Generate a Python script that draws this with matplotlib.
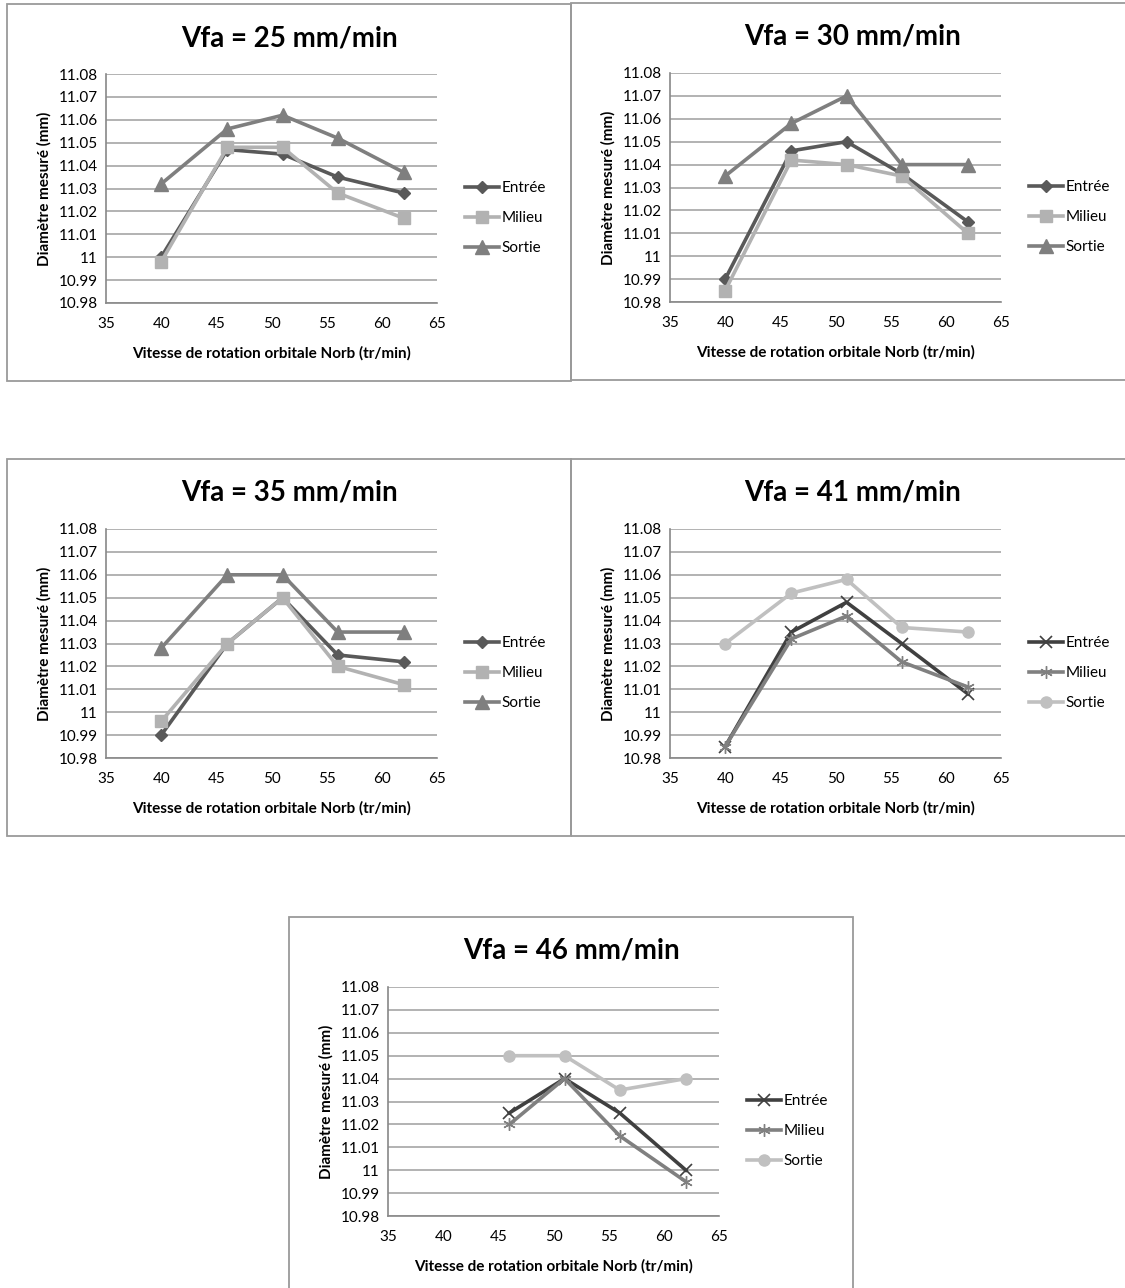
import matplotlib
matplotlib.use("Agg")
import matplotlib.pyplot as plt
from matplotlib.patches import Rectangle

plt.rcParams['font.family'] = ['Lato', 'DejaVu Sans']

W, H = 1125, 1288

norb = [40, 46, 51, 56, 62]
norb_46 = [46, 51, 56, 62]
series_names = ['Entrée', 'Milieu', 'Sortie']

vfa_25 = {'Entrée': [11.000, 11.047, 11.045, 11.035, 11.028],
          'Milieu': [10.998, 11.048, 11.048, 11.028, 11.017],
          'Sortie': [11.032, 11.056, 11.062, 11.052, 11.037]}
vfa_30 = {'Entrée': [10.990, 11.046, 11.050, 11.036, 11.015],
          'Milieu': [10.985, 11.042, 11.040, 11.035, 11.010],
          'Sortie': [11.035, 11.058, 11.070, 11.040, 11.040]}
vfa_35 = {'Entrée': [10.990, 11.030, 11.050, 11.025, 11.022],
          'Milieu': [10.996, 11.030, 11.050, 11.020, 11.012],
          'Sortie': [11.028, 11.060, 11.060, 11.035, 11.035]}
vfa_41 = {'Entrée': [10.985, 11.035, 11.048, 11.030, 11.008],
          'Milieu': [10.985, 11.032, 11.042, 11.022, 11.011],
          'Sortie': [11.030, 11.052, 11.058, 11.037, 11.035]}
vfa_46 = {'Entrée': [11.025, 11.040, 11.025, 11.000],
          'Milieu': [11.020, 11.040, 11.015, 10.995],
          'Sortie': [11.050, 11.050, 11.035, 11.040]}

yticks = [10.98, 10.99, 11.0, 11.01, 11.02, 11.03, 11.04, 11.05, 11.06, 11.07, 11.08]
ytick_labels = ['10.98', '10.99', '11', '11.01', '11.02', '11.03', '11.04',
                '11.05', '11.06', '11.07', '11.08']
xticks = [35, 40, 45, 50, 55, 60, 65]

# styles: first three charts / last two charts
style_a = {'Entrée': dict(color='#595959', marker='D', ms=6),
           'Milieu': dict(color='#b2b2b2', marker='s', ms=8),
           'Sortie': dict(color='#7f7f7f', marker='^', ms=10)}
style_b = {'Entrée': dict(color='#404040', marker='x', ms=8, mew=1.2),
           'Milieu': dict(color='#808080', marker=(6, 2, 0), ms=9, mew=1.0),
           'Sortie': dict(color='#c0c0c0', marker='o', ms=8)}

charts = [
    ('Vfa = 25 mm/min', norb, vfa_25, style_a, (7, 4)),
    ('Vfa = 30 mm/min', norb, vfa_30, style_a, (571, 3)),
    ('Vfa = 35 mm/min', norb, vfa_35, style_a, (7, 459)),
    ('Vfa = 41 mm/min', norb, vfa_41, style_b, (571, 459)),
    ('Vfa = 46 mm/min', norb_46, vfa_46, style_b, (289, 917)),
]

fig = plt.figure(figsize=(W / 100, H / 100), dpi=100)


def fx(px):
    return px / W


def fy(py):
    return 1 - py / H


BW, BH = 564, 377
grid_col = '#a6a6a6'

for title, x, data, style, (bx, by) in charts:
    fig.patches.append(Rectangle((fx(bx), fy(by + BH)), BW / W, BH / H,
                                 transform=fig.transFigure, fill=False,
                                 edgecolor='#9a9a9a', lw=1.3))
    left, right, top, bottom = bx + 99, bx + 430, by + 70, by + 299
    ax = fig.add_axes([fx(left), fy(bottom), (right - left) / W, (bottom - top) / H])
    for name in series_names:
        st = style[name]
        ax.plot(x, data[name], lw=2.6, label=name, color=st['color'],
                marker=st['marker'], ms=st['ms'], mew=st.get('mew', 1),
                mec=st['color'], mfc=st['color'], clip_on=False, zorder=3)
    ax.set_xlim(35, 65)
    ax.set_ylim(10.98, 11.08)
    ax.set_xticks(xticks)
    ax.set_yticks(yticks)
    ax.set_yticklabels(ytick_labels)
    ax.tick_params(length=0, labelsize=11, colors='black')
    ax.tick_params(axis='x', pad=10)
    ax.tick_params(axis='y', pad=6)
    ax.yaxis.grid(True, color=grid_col, lw=1.2)
    ax.set_axisbelow(True)
    for s in ['top', 'right']:
        ax.spines[s].set_visible(False)
    for s in ['left', 'bottom']:
        ax.spines[s].set_color('#888888')
        ax.spines[s].set_linewidth(1.2)
    ax.set_xlabel('Vitesse de rotation orbitale Norb (tr/min)', fontsize=11,
                  fontweight='bold', labelpad=11)
    ax.set_ylabel('Diamètre mesuré (mm)', fontsize=11, fontweight='bold', labelpad=5)
    fig.text(fx(bx + BW / 2), fy(by + 34), title, ha='center', va='center',
             fontsize=20, fontweight='bold')
    ax.legend(loc='upper left', bbox_to_anchor=(fx(bx + 458), fy(by + 177)),
              bbox_transform=fig.transFigure, frameon=False, fontsize=11,
              handlelength=2.2, handletextpad=0.2, labelspacing=1.05,
              borderaxespad=0, borderpad=0)

fig.savefig('out.png', dpi=100)
